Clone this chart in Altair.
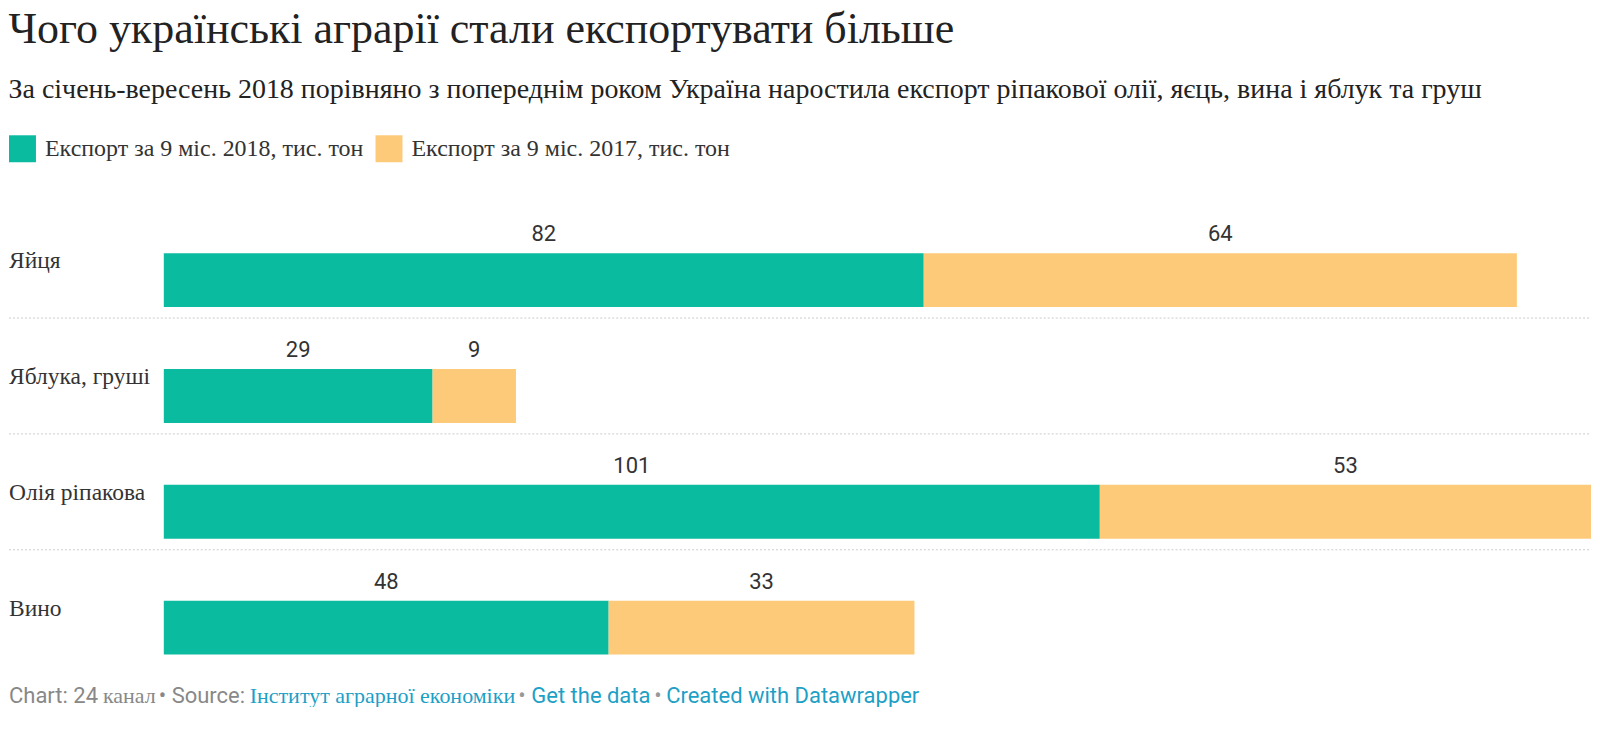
import altair as alt
import pandas as pd

categories = ["Яйця", "Яблука, груші", "Олія ріпакова", "Вино"]
export_2018 = [82, 29, 101, 48]
export_2017 = [64, 9, 53, 33]
series_names = ["Експорт за 9 міс. 2018, тис. тон", "Експорт за 9 міс. 2017, тис. тон"]
colors = ["#0bbba0", "#fdca7a"]

rows = []
for i, c in enumerate(categories):
    rows.append({"cat": c, "series": series_names[0], "value": export_2018[i], "ord": 0})
    rows.append({"cat": c, "series": series_names[1], "value": export_2017[i], "ord": 1})
df = pd.DataFrame(rows)
cat_df = pd.DataFrame({"cat": categories, "sep": [1, 1, 1, 0]})

footer_sans = pd.DataFrame([
    {"t": "Chart: 24", "color": "#888888", "x": 0},
    {"t": "• Source:", "color": "#888888", "x": 150},
    {"t": "•", "color": "#999999", "x": 510},
    {"t": "Get the data", "color": "#1d9fc6", "x": 523},
    {"t": "•", "color": "#999999", "x": 646},
    {"t": "Created with Datawrapper", "color": "#1d9fc6", "x": 658},
])
footer_serif = pd.DataFrame([
    {"t": "канал", "color": "#888888", "x": 94},
    {"t": "Інститут аграрної економіки", "color": "#1d9fc6", "x": 241},
])

W = 1584
STEP = 116
xscale = alt.Scale(domain=[0, 154], range=[155, W], nice=False, zero=True)
yenc = alt.Y("cat:N", sort=categories, axis=None,
             scale=alt.Scale(paddingInner=0, paddingOuter=0))

base = alt.Chart(df).transform_stack(
    stack="value", groupby=["cat"], as_=["x0", "x1"], sort=[alt.SortField("ord")]
).transform_calculate(mid="(datum.x0 + datum.x1) / 2")

bars = base.mark_bar(size=54).encode(
    x=alt.X("x0:Q", scale=xscale, axis=None),
    x2="x1:Q",
    y=yenc,
    color=alt.Color("series:N", sort=series_names,
                    scale=alt.Scale(domain=series_names, range=colors),
                    legend=alt.Legend(title=None, orient="top", direction="horizontal",
                                      symbolType="square", symbolSize=729,
                                      symbolStrokeWidth=0, symbolOpacity=1,
                                      labelFont="Liberation Serif", labelFontSize=24,
                                      labelColor="#333333", labelOffset=9, labelLimit=0,
                                      columnPadding=11, offset=60, padding=0)),
)

nums = base.mark_text(font="Roboto", fontSize=22, color="#333333", dy=-46,
                      baseline="middle", align="center").encode(
    x=alt.X("mid:Q", scale=xscale),
    y=yenc,
    text="value:Q",
)

cat_labels = alt.Chart(cat_df).mark_text(font="Liberation Serif", fontSize=23.5, color="#333333",
                                         align="left", baseline="middle", dy=-19).encode(
    x=alt.value(0),
    y=yenc,
    text="cat:N",
)

seps = alt.Chart(cat_df).transform_filter("datum.sep == 1").mark_rule(
    color="#cccccc", strokeDash=[2, 2], strokeWidth=1, yOffset=38
).encode(
    x=alt.value(0), x2=alt.value(W),
    y=yenc,
)

fs = alt.Chart(footer_sans).mark_text(font="Roboto", fontSize=22, align="left", baseline="middle").encode(
    x=alt.X("x:Q", scale=None),
    y=alt.value(4 * STEP + 10),
    text="t:N",
    color=alt.Color("color:N", scale=None, legend=None),
)
fr = alt.Chart(footer_serif).mark_text(font="Liberation Serif", fontSize=22, align="left", baseline="middle").encode(
    x=alt.X("x:Q", scale=None),
    y=alt.value(4 * STEP + 10),
    text="t:N",
    color=alt.Color("color:N", scale=None, legend=None),
)

chart = alt.layer(seps, bars, nums, cat_labels, fs, fr).properties(
    width=W,
    height=alt.Step(STEP),
    padding=0,
    background="white",
    title=alt.TitleParams(
        text="Чого українські аграрії стали експортувати більше",
        subtitle="За січень-вересень 2018 порівняно з попереднім роком Україна наростила експорт ріпакової олії, яєць, вина і яблук та груш",
        anchor="start",
        font="Liberation Serif", fontSize=44, fontWeight="normal", color="#222222",
        subtitleFont="Liberation Serif", subtitleFontSize=28, subtitleColor="#222222",
        subtitlePadding=24, offset=31,
    ),
).configure_view(strokeWidth=0)

chart.save("out.html", embed_options={"renderer": "svg", "actions": False})
